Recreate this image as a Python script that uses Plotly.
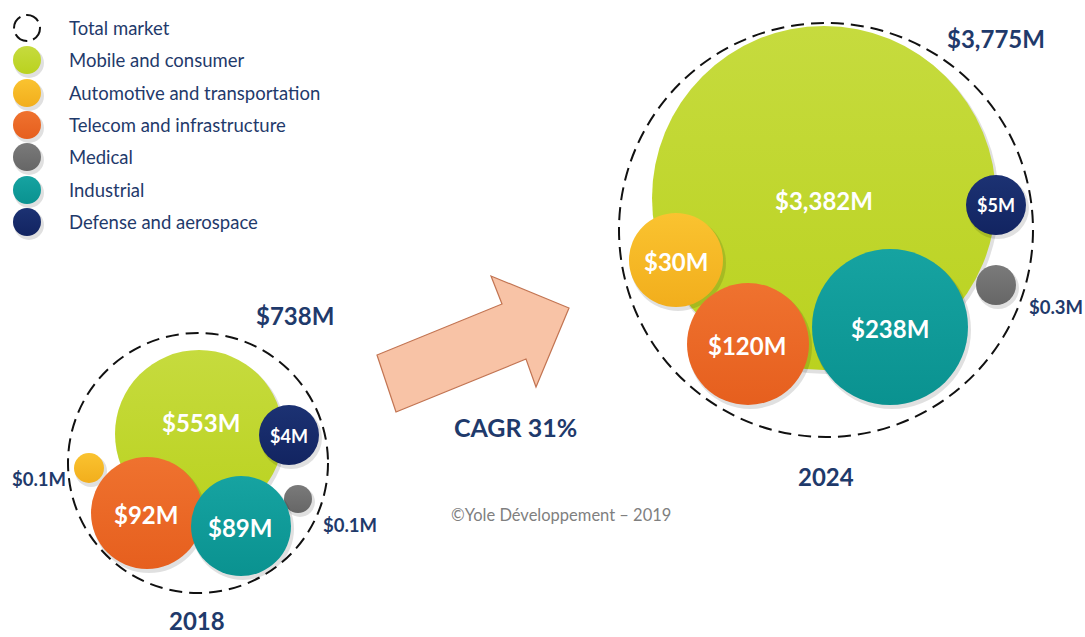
import plotly.graph_objects as go

# --- data ---
segments = ["Mobile and consumer", "Automotive and transportation", "Telecom and infrastructure",
            "Medical", "Industrial", "Defense and aerospace"]
values_2018 = [553, 0.1, 92, 0.1, 89, 4]
values_2024 = [3382, 30, 120, 0.3, 238, 5]
years = ["2018", "2024"]
totals = [738, 3775]
cagr = 31

# --- styling / layout (pixel space, y pointing down) ---
colors = ["#C6DB3E", "#FAC330", "#EF722F", "#7A7A7A", "#16A3A1", "#1C3273"]
grad = ["#BAD21F", "#F2AE1C", "#E65F1E", "#666666", "#0A9290", "#122461"]
navy = "#1F3A6B"
font = "Lato"

legend_y = [60, 93, 125, 157, 190, 222]
pos_2018 = [(199, 434), (89, 468), (147, 513), (298, 499), (241, 526), (289, 435)]
rad_2018 = [84, 15, 56, 14, 50, 30]
lab_2018 = [(201, 422), (39, 479), (146, 514), (350, 525), (240, 527), (289, 436)]
pos_2024 = [(824, 198), (676, 260), (748, 344), (996, 285), (890, 327), (996, 205)]
rad_2024 = [172, 47, 61, 20, 78, 30]
lab_2024 = [(824, 200), (676, 261), (747, 345), (1056, 307), (890, 328), (996, 205)]
total_circle = [(198, 463, 130), (826, 230, 207)]
total_label = [(295, 315), (996, 38)]
year_label = [(197, 620), (826, 476)]


def fmt(v):
    return f"${v}M" if v < 1 else f"${v:,.0f}M"


fig = go.Figure()

# dashed total-market circles
for cx, cy, r in total_circle:
    fig.add_shape(type="circle", x0=cx - r, x1=cx + r, y0=cy - r, y1=cy + r,
                  line=dict(color="#111111", width=2, dash="13px,7px"), layer="below")
fig.add_shape(type="circle", x0=14, x1=40, y0=15, y1=41,
              line=dict(color="#111111", width=2, dash="14px,6px"))

# soft shadows + bubbles (legend dot, 2018, 2024 per segment)
for i in range(len(segments)):
    xs = [27, pos_2018[i][0], pos_2024[i][0]]
    ys = [legend_y[i], pos_2018[i][1], pos_2024[i][1]]
    sz = [28, 2 * rad_2018[i], 2 * rad_2024[i]]
    fig.add_trace(go.Scatter(
        x=[x + 2 for x in xs], y=[y + 3 for y in ys], mode="markers",
        marker=dict(size=[s + 2 for s in sz], color="rgba(0,0,0,0.12)", opacity=1, line=dict(width=0)),
        hoverinfo="skip", showlegend=False))
    fig.add_trace(go.Scatter(
        x=xs, y=ys, mode="markers", name=segments[i],
        marker=dict(size=sz, color=colors[i], opacity=1, line=dict(width=0),
                    gradient=dict(type="vertical", color=grad[i])),
        showlegend=False))

# legend text
fig.add_annotation(x=67, y=28, text="Total market", showarrow=False, xanchor="left",
                   font=dict(family=font, size=18.5, color=navy))
for i, name in enumerate(segments):
    fig.add_annotation(x=67, y=legend_y[i], text=name, showarrow=False, xanchor="left",
                       font=dict(family=font, size=18.5, color=navy))

# value labels
for vals, rads, labs in [(values_2018, rad_2018, lab_2018), (values_2024, rad_2024, lab_2024)]:
    for v, r, (lx, ly) in zip(vals, rads, labs):
        inside = r >= 25
        size = 24 if r >= 45 else (18 if inside else 18.5)
        fig.add_annotation(x=lx, y=ly, text=f"<b>{fmt(v)}</b>", showarrow=False,
                           font=dict(family=font, size=size,
                                     color="white" if inside else navy))

for (tx, ty), t in zip(total_label, totals):
    fig.add_annotation(x=tx, y=ty, text=f"<b>{fmt(t)}</b>", showarrow=False,
                       font=dict(family=font, size=24, color=navy))
for (tx, ty), yr in zip(year_label, years):
    fig.add_annotation(x=tx, y=ty, text=f"<b>{yr}</b>", showarrow=False,
                       font=dict(family=font, size=24, color=navy))

# growth arrow
fig.add_shape(type="path",
              path="M 396 412 L 377 355 L 502 304 L 491 276 L 569 308 L 536 387 L 526 359 Z",
              fillcolor="#F8C3A6", line=dict(color="#C27452", width=1.2))
fig.add_annotation(x=515, y=427, text=f"<b>CAGR {cagr}%</b>", showarrow=False,
                   font=dict(family=font, size=25, color=navy))
fig.add_annotation(x=561, y=515, text="©Yole Développement – 2019", showarrow=False,
                   font=dict(family=font, size=16.5, color="#7F7F7F"))

fig.update_xaxes(range=[0, 1085], visible=False, fixedrange=True)
fig.update_yaxes(range=[637, 0], visible=False, fixedrange=True)
fig.update_layout(width=1085, height=637, margin=dict(l=0, r=0, t=0, b=0),
                  plot_bgcolor="white", paper_bgcolor="white", showlegend=False)

fig.write_html("out.html", config={"displayModeBar": False},
               post_script="document.body.style.margin='0';")
